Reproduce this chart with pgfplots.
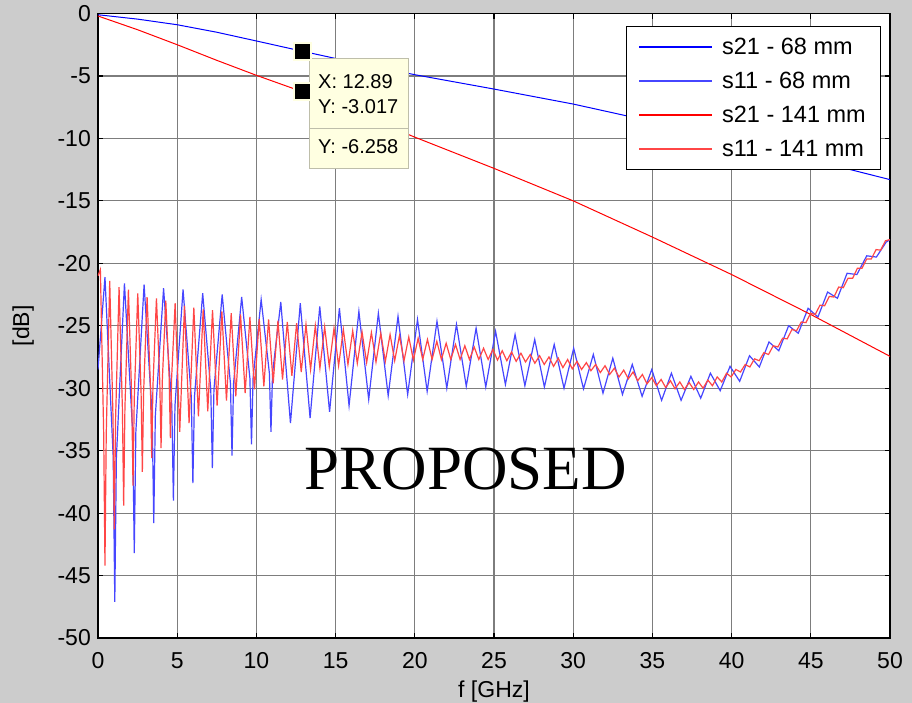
\documentclass[border=0pt]{standalone}
\usepackage{fontspec}
\setmainfont{Liberation Sans}
\newfontfamily\timesfont{Liberation Serif}
\usepackage{pgfplots}
\pgfplotsset{compat=1.18}
\definecolor{figbg}{RGB}{204,204,204}
\definecolor{gridc}{RGB}{125,125,125}
\definecolor{sBlue}{RGB}{0,0,255}
\definecolor{sBlueL}{RGB}{70,70,255}
\definecolor{sRed}{RGB}{255,0,0}
\definecolor{sRedL}{RGB}{255,70,70}
\definecolor{tipbg}{RGB}{255,255,225}
\definecolor{tipborder}{RGB}{190,190,170}
\begin{document}
\begin{tikzpicture}
\fill[figbg] (0,0) rectangle (912pt,-703pt);
\begin{axis}[
  at={(98pt,-638pt)}, anchor=south west,
  scale only axis, width=792pt, height=624.5pt,
  xmin=0, xmax=50, ymin=-50, ymax=0,
  xtick={0,5,...,50}, ytick={-50,-45,...,0},
  axis background/.style={fill=white},
  axis line style={black, line width=1.2pt},
  grid=major, major grid style={gridc, line width=1.2pt},
  tick align=inside, major tick length=5pt,
  tick style={black, line width=1.2pt},
  /pgf/number format/assume math mode=true,
  tick label style={font=\fontsize{23}{23}\selectfont},
  xticklabel style={inner sep=0pt, anchor=north, yshift=-14pt},
  yticklabel style={inner sep=0pt, anchor=east, xshift=-7pt},
  xlabel={f [GHz]}, ylabel={[dB]},
  label style={font=\fontsize{23}{23}\selectfont},
  xlabel style={at={(axis description cs:0.5,-0.0945)}, anchor=base},
  ylabel style={at={(axis description cs:-0.0871,0.5)}, anchor=base},
  legend style={at={(0.9874,0.98)}, anchor=north east,
    fill=white, font=\fontsize{23.5}{23.5}\selectfont,
    inner xsep=12pt, inner ysep=10pt, row sep=12pt,
    /tikz/every odd column/.append style={column sep=7pt}},
  legend cell align=left,
  legend image code/.code={\draw[#1] (0pt,0pt) -- (73pt,0pt);},
  legend image post style={line width=1.5pt},
]
% s21 - 68 mm
\addplot[color=sBlue, draw=sBlue, line width=1pt] coordinates {
(0,-0.1) (2.5,-0.45) (5,-0.9) (7.5,-1.5) (10,-2.2) (12.89,-3.017) (15,-3.6)
(20,-4.9) (25,-6.05) (30,-7.25) (35,-8.65) (40,-10.1) (45,-11.7) (50,-13.3)};
\addlegendentry{s21 - 68 mm}
% s11 - 68 mm
\addplot[color=sBlueL, draw=sBlueL, line width=1.2pt] coordinates {
(0,-28.5) (0.44,-21.1)
(0.96,-35.5) (1.06,-47.1) (1.16,-35.6) (1.67,-21.6)
(2.19,-33.5) (2.29,-43.2) (2.39,-33.5) (2.91,-21.7)
(3.42,-32.2) (3.52,-40.8) (3.62,-32.2) (4.14,-22.0)
(4.66,-31.4) (4.76,-39.0) (4.86,-31.4) (5.37,-22.1)
(5.89,-30.7) (5.99,-37.6) (6.09,-30.7) (6.61,-22.4)
(7.12,-30.1) (7.22,-36.4) (7.32,-30.1) (7.84,-22.5)
(8.36,-29.6) (8.46,-35.4) (8.56,-29.6) (9.07,-22.7)
(9.59,-29.2) (9.69,-34.5) (9.79,-29.2) (10.30,-22.9)
(10.82,-28.8) (10.92,-33.5) (11.02,-28.8) (11.54,-23.1)
(12.15,-32.8) (12.77,-23.2) (13.39,-32.4) (14.00,-23.45)
(14.62,-31.9) (15.24,-23.6) (15.85,-31.4) (16.47,-23.85)
(17.09,-30.9) (17.70,-24.0) (18.32,-30.6) (18.94,-24.25)
(19.55,-30.5) (20.17,-24.5) (20.78,-30.25) (21.40,-24.65)
(22.02,-30.0) (22.63,-24.9) (23.25,-29.85) (23.87,-25.2)
(24.48,-29.9) (25.10,-25.45) (25.72,-29.7) (26.33,-25.7)
(26.95,-29.8) (27.57,-26.1) (28.18,-29.9) (28.80,-26.5)
(29.42,-30.0) (30.03,-26.8) (30.65,-30.05) (31.27,-27.3)
(31.88,-30.4) (32.50,-27.6) (33.11,-30.5) (33.73,-28.1)
(34.35,-30.65) (34.96,-28.5) (35.58,-30.97) (36.20,-28.8)
(36.81,-30.97) (37.43,-29.05) (38.05,-30.8) (38.66,-28.8)
(39.28,-30.2) (39.90,-28.25) (40.51,-29.45) (41.13,-27.4)
(41.75,-28.3) (42.36,-26.3) (42.98,-27.0) (43.60,-25.0)
(44.21,-25.6) (44.83,-23.6) (45.45,-24.3) (46.06,-22.3)
(46.68,-22.8) (47.29,-20.8) (47.91,-20.9) (48.53,-19.4)
(49.14,-19.5) (49.76,-18.3) (50,-18.1)};
\addlegendentry{s11 - 68 mm}
% s21 - 141 mm
\addplot[color=sRed, draw=sRed, line width=1pt] coordinates {
(0,-0.2) (2.5,-1.3) (5,-2.5) (7.5,-3.75) (10,-4.95) (12.89,-6.258) (15,-7.3)
(20,-9.9) (25,-12.4) (30,-15.0) (35,-17.9) (40,-20.9) (45,-24.1) (50,-27.45)};
\addlegendentry{s21 - 141 mm}
% s11 - 141 mm
\addplot[color=sRedL, draw=sRedL, line width=1.2pt] coordinates {
(0,-21.0) (0.15,-20.5)
(0.36,-33.7) (0.44,-44.2) (0.52,-33.7) (0.74,-21.4)
(0.95,-32.5) (1.03,-41.3) (1.11,-32.5) (1.33,-21.9)
(1.54,-31.6) (1.62,-39.4) (1.70,-31.6) (1.92,-22.1)
(2.13,-30.8) (2.21,-37.8) (2.29,-30.8) (2.51,-22.4)
(2.72,-30.3) (2.80,-36.7) (2.88,-30.3) (3.10,-22.7)
(3.31,-29.8) (3.39,-35.6) (3.47,-29.8) (3.69,-22.8)
(3.90,-29.4) (3.98,-34.8) (4.06,-29.4) (4.28,-23.0)
(4.49,-29.1) (4.57,-34.0) (4.65,-29.1) (4.87,-23.2)
(5.16,-33.5) (5.46,-23.4) (5.75,-32.8) (6.05,-23.55)
(6.34,-32.25) (6.64,-23.7) (6.93,-31.85) (7.23,-23.75)
(7.52,-31.4) (7.82,-23.85) (8.11,-31.0) (8.41,-24.0)
(8.70,-30.65) (9.00,-24.1) (9.29,-30.4) (9.59,-24.3)
(9.88,-30.1) (10.18,-24.45) (10.47,-29.85) (10.77,-24.5)
(11.06,-29.6) (11.36,-24.6) (11.65,-29.3) (11.95,-24.7)
(12.24,-29.0) (12.54,-24.8) (12.83,-28.7) (13.13,-24.9)
(13.42,-28.5) (13.72,-25.0) (14.01,-28.4) (14.31,-25.1)
(14.60,-28.25) (14.90,-25.2) (15.19,-28.2) (15.49,-25.3)
(15.78,-28.1) (16.08,-25.4) (16.37,-28.0) (16.67,-25.5)
(16.96,-27.95) (17.26,-25.55) (17.55,-27.9) (17.85,-25.6)
(18.14,-27.85) (18.44,-25.7) (18.73,-27.8) (19.03,-25.8)
(19.32,-27.8) (19.62,-25.9) (19.91,-27.75) (20.21,-26.0)
(20.50,-27.7) (20.80,-26.1) (21.09,-27.7) (21.39,-26.25)
(21.68,-27.7) (21.98,-26.4) (22.27,-27.7) (22.57,-26.5)
(22.86,-27.7) (23.16,-26.6) (23.45,-27.7) (23.75,-26.7)
(24.04,-27.7) (24.34,-26.8) (24.63,-27.7) (24.93,-26.9)
(25.22,-27.75) (25.52,-27.0) (25.81,-27.8) (26.11,-27.1)
(26.40,-27.85) (26.70,-27.2) (26.99,-27.9) (27.29,-27.3)
(27.58,-28.0) (27.88,-27.4) (28.17,-28.1) (28.47,-27.5)
(28.76,-28.25) (29.06,-27.6) (29.35,-28.35) (29.65,-27.7)
(29.94,-28.45) (30.24,-27.85) (30.53,-28.5) (30.83,-27.95)
(31.12,-28.6) (31.42,-28.1) (31.71,-28.75) (32.01,-28.2)
(32.30,-28.9) (32.60,-28.4) (32.89,-29.1) (33.19,-28.55)
(33.48,-29.25) (33.78,-28.7) (34.07,-29.4) (34.37,-28.9)
(34.66,-29.65) (34.96,-29.15) (35.25,-29.8) (35.55,-29.3)
(35.84,-29.95) (36.14,-29.4) (36.43,-30.05) (36.73,-29.5)
(37.02,-30.1) (37.32,-29.55) (37.61,-30.1) (37.91,-29.5)
(38.20,-30.0) (38.50,-29.35) (38.79,-29.8) (39.09,-29.1)
(39.38,-29.5) (39.68,-28.8) (39.97,-29.1) (40.27,-28.5)
(40.56,-28.7) (40.86,-28.1) (41.15,-28.3) (41.45,-27.65)
(41.74,-27.8) (42.04,-27.15) (42.33,-27.3) (42.63,-26.6)
(42.92,-26.7) (43.22,-26.0) (43.51,-26.05) (43.81,-25.3)
(44.10,-25.4) (44.40,-24.7) (44.69,-24.75) (44.99,-24.0)
(45.28,-24.1) (45.58,-23.35) (45.87,-23.4) (46.17,-22.65)
(46.46,-22.7) (46.76,-21.9) (47.05,-21.95) (47.35,-21.2)
(47.64,-21.2) (47.94,-20.4) (48.23,-20.4) (48.53,-19.65)
(48.82,-19.65) (49.12,-18.9) (49.41,-18.95) (49.71,-18.2)
(50,-18.1)};
\addlegendentry{s11 - 141 mm}
% data tip markers
\addplot[only marks, mark=square*, mark size=8.5pt, forget plot,
  mark options={draw=tipbg, fill=black, line width=2pt}]
  coordinates {(12.89,-3.017) (12.89,-6.258)};
% data tip boxes
\filldraw[fill=tipbg, draw=tipborder, line width=1pt] (axis cs:13.38,-9.17) rectangle (axis cs:19.63,-12.37);
\filldraw[fill=tipbg, draw=tipborder, line width=1pt] (axis cs:13.38,-3.64) rectangle (axis cs:19.63,-9.17);
\node[anchor=west, inner sep=0pt, font=\fontsize{20}{20}\selectfont] at (axis cs:13.89,-5.48) {X: 12.89};
\node[anchor=west, inner sep=0pt, font=\fontsize{20}{20}\selectfont] at (axis cs:13.89,-7.49) {Y: -3.017};
\node[anchor=west, inner sep=0pt, font=\fontsize{20}{20}\selectfont] at (axis cs:13.89,-10.69) {Y: -6.258};
\node[anchor=base, inner sep=0pt, font=\timesfont\fontsize{63}{63}\selectfont] at (axis cs:23.23,-38.15) {PROPOSED};
\end{axis}
\pgfresetboundingbox
\path[use as bounding box] (0,0) rectangle (912pt,-703pt);
\end{tikzpicture}
\end{document}
